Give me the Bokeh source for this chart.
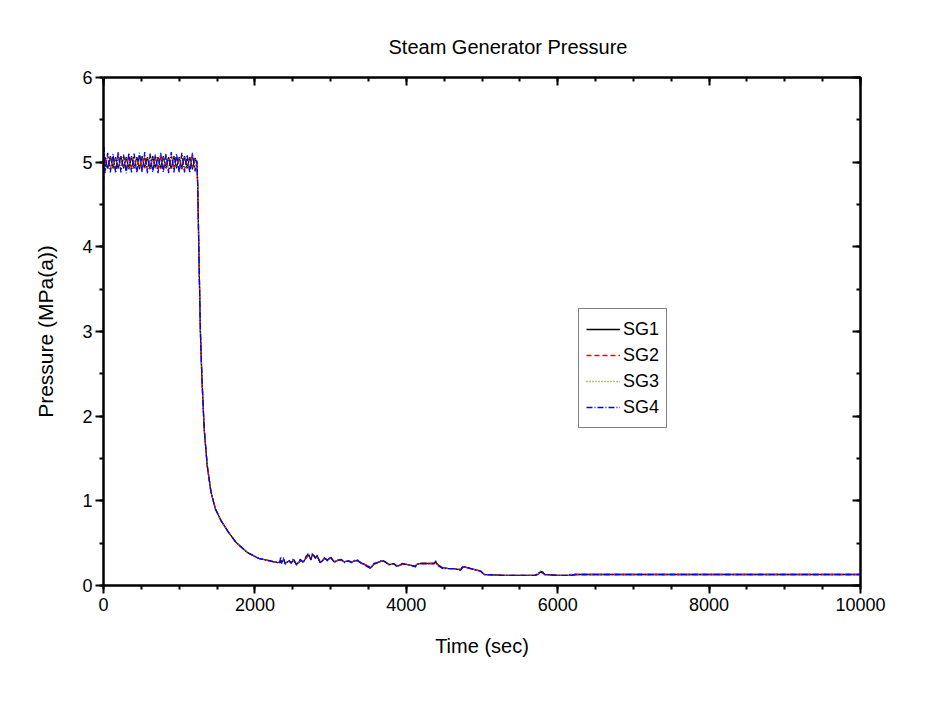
from bokeh.plotting import figure
from bokeh.models import LinearAxis, FixedTicker, Range1d, Legend, LegendItem
from bokeh.embed import file_html
from bokeh.resources import INLINE

# ---------------- data ----------------
x_ticks = [0, 2000, 4000, 6000, 8000, 10000]
x_minor = [0, 500, 1000, 1500, 2000, 2500, 3000, 3500, 4000, 4500, 5000,
           5500, 6000, 6500, 7000, 7500, 8000, 8500, 9000, 9500, 10000]
y_ticks = [0, 1, 2, 3, 4, 5, 6]
y_minor = [0, 0.5, 1, 1.5, 2, 2.5, 3, 3.5, 4, 4.5, 5, 5.5, 6]

# oscillating phase (sec)
osc_t = [0, 8, 20, 55, 90, 125, 160, 195, 230, 265, 300, 335, 370, 405, 440,
         475, 510, 545, 580, 615, 650, 685, 720, 755, 790, 825, 860, 895, 930,
         965, 1000, 1035, 1070, 1105, 1140, 1175, 1210, 1235]

sg1_osc = [4.95, 5.00,
           5.06, 4.92, 5.07, 4.93, 5.06, 4.92, 5.07, 4.93,
           5.06, 4.92, 5.07, 4.93, 5.06, 4.92, 5.07, 4.93,
           5.06, 4.92, 5.07, 4.93, 5.06, 4.92, 5.07, 4.93,
           5.06, 4.92, 5.07, 4.93, 5.06, 4.92, 5.07, 4.93,
           5.06, 4.92, 5.05, 4.98]
sg2_osc = [4.80, 5.10,
           4.90, 5.08, 4.91, 5.07, 4.90, 5.08, 4.91, 5.07,
           4.90, 5.08, 4.91, 5.07, 4.90, 5.08, 4.91, 5.07,
           4.90, 5.08, 4.91, 5.07, 4.90, 5.08, 4.91, 5.07,
           4.90, 5.08, 4.91, 5.07, 4.90, 5.08, 4.91, 5.07,
           4.90, 5.08, 4.92, 5.00]
sg3_osc = [4.90, 5.05,
           5.05, 4.91, 5.06, 4.92, 5.05, 4.91, 5.06, 4.92,
           5.05, 4.91, 5.06, 4.92, 5.05, 4.91, 5.06, 4.92,
           5.05, 4.91, 5.06, 4.92, 5.05, 4.91, 5.06, 4.92,
           5.05, 4.91, 5.06, 4.92, 5.05, 4.91, 5.06, 4.92,
           5.05, 4.91, 5.04, 4.97]
sg4_osc = [4.65, 5.18,
           4.87, 5.11, 4.88, 5.10, 4.87, 5.12, 4.88, 5.09,
           4.87, 5.11, 4.88, 5.10, 4.87, 5.11, 4.88, 5.12,
           4.87, 5.10, 4.88, 5.09, 4.87, 5.11, 4.88, 5.10,
           4.87, 5.12, 4.88, 5.10, 4.87, 5.11, 4.88, 5.09,
           4.87, 5.11, 4.89, 5.02]

# depressurisation
decay_t = [1245, 1255, 1265, 1280, 1300, 1330, 1370, 1420, 1480, 1550,
           1650, 1750, 1900, 2050, 2200]
decay_p = [4.70, 4.20, 3.70, 3.00, 2.45, 1.85, 1.42, 1.10, 0.90, 0.77,
           0.63, 0.51, 0.39, 0.32, 0.29]

# low-pressure tail
tail_t = [2300, 2330, 2340, 2350, 2380, 2400, 2450, 2480, 2510, 2550,
          2600, 2640, 2680, 2710, 2740, 2760, 2800, 2820, 2860, 2880,
          2920, 2960, 3000, 3050, 3100, 3140, 3180, 3230, 3280, 3320,
          3360, 3400, 3450, 3510, 3530, 3570, 3620, 3680, 3720, 3770,
          3800, 3830, 3880, 3945, 4000, 4050, 4120, 4140, 4190, 4280,
          4370, 4390, 4410, 4480, 4560, 4630, 4680, 4720, 4740, 4760,
          4850, 4980, 5030, 5300, 5700, 5740, 5770, 5800, 5830, 6000,
          6150, 6170, 6180, 6230, 8000, 10000]
tail_a = [0.27, 0.27, 0.34, 0.26, 0.33, 0.25, 0.30, 0.26, 0.32, 0.24,
          0.31, 0.27, 0.35, 0.38, 0.30, 0.38, 0.32, 0.36, 0.27, 0.28,
          0.33, 0.29, 0.34, 0.27, 0.30, 0.31, 0.27, 0.29, 0.27, 0.30,
          0.30, 0.26, 0.24, 0.21, 0.20, 0.26, 0.27, 0.30, 0.28, 0.24,
          0.25, 0.26, 0.22, 0.26, 0.25, 0.24, 0.22, 0.25, 0.26, 0.26,
          0.26, 0.29, 0.24, 0.20, 0.20, 0.20, 0.19, 0.18, 0.22, 0.23,
          0.20, 0.17, 0.13, 0.12, 0.12, 0.14, 0.17, 0.16, 0.13, 0.12,
          0.12, 0.14, 0.12, 0.13, 0.13, 0.13]
tail_b = [0.27, 0.28, 0.30, 0.27, 0.31, 0.26, 0.29, 0.27, 0.30, 0.25,
          0.29, 0.28, 0.33, 0.36, 0.31, 0.37, 0.33, 0.35, 0.28, 0.28,
          0.32, 0.30, 0.33, 0.28, 0.30, 0.30, 0.28, 0.29, 0.28, 0.29,
          0.29, 0.27, 0.25, 0.22, 0.21, 0.25, 0.27, 0.29, 0.28, 0.25,
          0.25, 0.26, 0.23, 0.25, 0.25, 0.24, 0.23, 0.25, 0.26, 0.26,
          0.26, 0.28, 0.25, 0.21, 0.20, 0.20, 0.19, 0.19, 0.21, 0.22,
          0.20, 0.17, 0.13, 0.12, 0.12, 0.13, 0.16, 0.15, 0.13, 0.12,
          0.12, 0.12, 0.12, 0.13, 0.13, 0.13]

time = osc_t + decay_t + tail_t
sg1 = sg1_osc + decay_p + tail_b
sg2 = sg2_osc + decay_p + tail_b
sg3 = sg3_osc + decay_p + tail_a
sg4 = sg4_osc + decay_p + tail_a

names = ["SG1", "SG2", "SG3", "SG4"]
colors = ["#000000", "#FF0000", "#808000", "#0000FF"]
dashes = ["solid", "5 3", "1 2", "6 2 1 2"]

FONT = "Liberation Sans"

# ---------------- figure ----------------
p = figure(width=930, height=700, output_backend="svg", toolbar_location=None,
           x_range=Range1d(0, 10000), y_range=Range1d(0, 6),
           min_border_left=103, min_border_right=70,
           min_border_top=77, min_border_bottom=115)
p.xgrid.visible = False
p.ygrid.visible = False
p.outline_line_color = "black"
p.outline_line_width = 2
p.background_fill_color = "white"
p.border_fill_color = "white"

p.title.text = "Steam Generator Pressure"
p.title.align = "left"
p.title.offset = 285
p.title.text_font = FONT
p.title.text_font_size = "20px"
p.title.text_font_style = "normal"
p.title.text_color = "black"
p.title.standoff = 40

xt = FixedTicker(ticks=x_ticks, minor_ticks=x_minor)
yt = FixedTicker(ticks=y_ticks, minor_ticks=y_minor)


def style(ax, ticker, outside):
    ax.ticker = ticker
    ax.axis_line_width = 2
    ax.axis_line_color = "black"
    ax.major_tick_line_width = 2
    ax.minor_tick_line_width = 2
    ax.major_tick_line_color = "black"
    ax.minor_tick_line_color = "black"
    if outside:
        ax.major_tick_out = 8
        ax.major_tick_in = 0
        ax.minor_tick_out = 4
        ax.minor_tick_in = 0
    else:
        ax.major_tick_out = 0
        ax.major_tick_in = 8
        ax.minor_tick_out = 0
        ax.minor_tick_in = 4
        ax.major_label_text_color = None
        ax.major_label_text_font_size = "2px"


xa = p.xaxis[0]
style(xa, xt, True)
xa.axis_label = "Time (sec)"
xa.axis_label_text_font = FONT
xa.axis_label_text_font_size = "20px"
xa.axis_label_text_font_style = "normal"
xa.axis_label_text_color = "black"
xa.axis_label_standoff = 21
xa.major_label_text_font = FONT
xa.major_label_text_font_size = "18px"
xa.major_label_text_color = "black"
xa.major_label_standoff = 4

ya = p.yaxis[0]
style(ya, yt, True)
ya.axis_label = "Pressure (MPa(a))"
ya.axis_label_text_font = FONT
ya.axis_label_text_font_size = "21px"
ya.axis_label_text_font_style = "normal"
ya.axis_label_text_color = "black"
ya.axis_label_standoff = 22
ya.major_label_text_font = FONT
ya.major_label_text_font_size = "18px"
ya.major_label_text_color = "black"
ya.major_label_standoff = 3

top = LinearAxis()
style(top, FixedTicker(ticks=x_ticks, minor_ticks=x_minor), False)
p.add_layout(top, "above")
right = LinearAxis()
style(right, FixedTicker(ticks=y_ticks, minor_ticks=y_minor), False)
p.add_layout(right, "right")

series = [sg1, sg2, sg3, sg4]
items = []
for name, ys, c, d in zip(names, series, colors, dashes):
    r = p.line(time, ys, line_color=c, line_width=1.3, line_dash=d)
    items.append(LegendItem(label=name, renderers=[r]))

legend = Legend(items=items, location=(475, 157))
legend.border_line_color = "black"
legend.border_line_width = 1
legend.background_fill_color = "white"
legend.background_fill_alpha = 1
legend.label_text_font = FONT
legend.label_text_font_size = "18px"
legend.label_text_color = "black"
legend.glyph_width = 34
legend.glyph_height = 26
legend.label_height = 26
legend.label_standoff = 3
legend.spacing = 0
legend.padding = 7
legend.margin = 0
p.add_layout(legend)

open("out.html", "w").write(file_html(p, INLINE))
